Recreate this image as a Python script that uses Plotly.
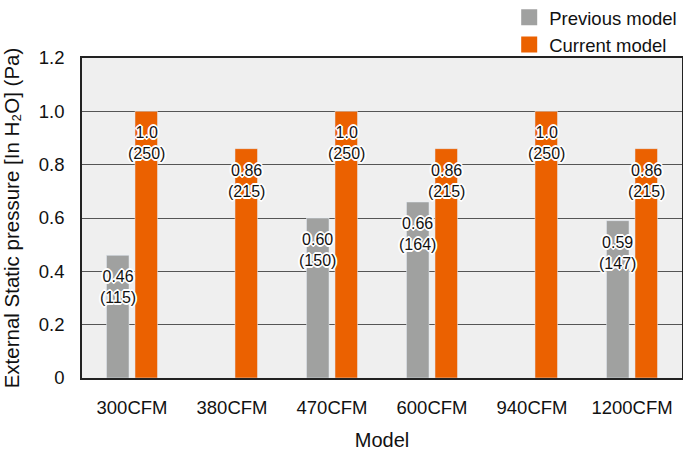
import plotly.graph_objects as go

categories = ["300CFM", "380CFM", "470CFM", "600CFM", "940CFM", "1200CFM"]
previous_inh2o = [0.46, None, 0.60, 0.66, None, 0.59]
previous_label = ["0.46", None, "0.60", "0.66", None, "0.59"]
previous_pa = [115, None, 150, 164, None, 147]
current_inh2o = [1.0, 0.86, 1.0, 0.86, 1.0, 0.86]
current_label = ["1.0", "0.86", "1.0", "0.86", "1.0", "0.86"]
current_pa = [250, 215, 250, 215, 250, 215]
y_tick_vals = [0, 0.2, 0.4, 0.6, 0.8, 1.0, 1.2]
y_tick_text = ["0", "0.2", "0.4", "0.6", "0.8", "1.0", "1.2"]

GRAY = "#a0a1a0"
ORANGE = "#eb6100"
FONT = "Arial, Liberation Sans, sans-serif"
OUTLINE = ", ".join(f"white {dx}px {dy}px 0px" for dx, dy in
                    [(1, 0), (-1, 0), (0, 1), (0, -1), (1, 1), (-1, -1), (1, -1), (-1, 1),
                     (2, 0), (-2, 0), (0, 2), (0, -2)])
BARGAP = 0.43
BARGROUPGAP = 0.21
SLOT = (1 - BARGAP) / 2

fig = go.Figure()
fig.add_trace(go.Bar(x=categories, y=previous_inh2o, name="Previous model",
                     marker_color=GRAY, showlegend=False, hoverinfo="skip"))
fig.add_trace(go.Bar(x=categories, y=current_inh2o, name="Current model",
                     marker_color=ORANGE, showlegend=False, hoverinfo="skip"))
for name, col in [("Previous model", GRAY), ("Current model", ORANGE)]:
    fig.add_trace(go.Scatter(x=[None], y=[None], mode="markers", name=name,
                             marker=dict(symbol="square", size=18, color=col)))

annotations = []
for series, labs, pas, off in [(previous_inh2o, previous_label, previous_pa, -SLOT / 2),
                               (current_inh2o, current_label, current_pa, SLOT / 2)]:
    for i, (v, lab, pa) in enumerate(zip(series, labs, pas)):
        if v is None:
            continue
        annotations.append(dict(
            x=i + off, y=v, xref="x", yref="y", text=f"{lab}<br>({pa})",
            showarrow=False, yanchor="top", xanchor="center", yshift=-11,
            font=dict(family=FONT, size=16, color="#111", shadow=OUTLINE)))

fig.update_layout(
    width=683, height=453,
    margin=dict(l=82, r=1, t=58, b=75, autoexpand=False),
    paper_bgcolor="white", plot_bgcolor="#efefef",
    barmode="group", bargap=BARGAP, bargroupgap=BARGROUPGAP,
    font=dict(family=FONT, size=18.5, color="#111"),
    legend=dict(x=0.712, xanchor="left", y=1.185, yanchor="top",
                font=dict(size=18.5), bgcolor="rgba(0,0,0,0)", tracegroupgap=0),
    annotations=annotations,
)
fig.update_xaxes(
    title=dict(text="Model", font=dict(size=20), standoff=16),
    showline=True, linecolor="#222", linewidth=1.5, mirror=True,
    ticks="", ticklabelstandoff=12, tickfont=dict(size=18.5), showgrid=False)
fig.update_yaxes(
    title=dict(text="External Static pressure [In H₂O] (Pa)", font=dict(size=20.5), standoff=14),
    range=[0, 1.2], tickvals=y_tick_vals, ticktext=y_tick_text,
    showline=True, linecolor="#222", linewidth=1.5, mirror=True,
    showgrid=True, gridcolor="#555", gridwidth=1, zeroline=False,
    ticks="", ticklabelstandoff=12, tickfont=dict(size=18.5))

fig.write_html("out.html")
